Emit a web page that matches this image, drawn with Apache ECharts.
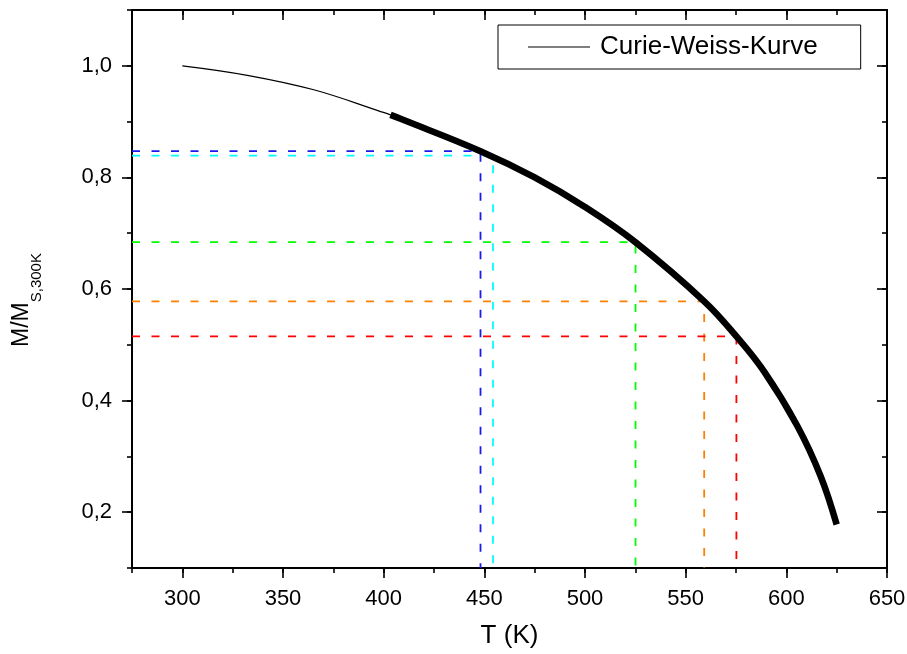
<!DOCTYPE html>
<html>
<head>
<meta charset="utf-8">
<script src="https://cdn.jsdelivr.net/npm/echarts@6/dist/echarts.min.js"></script>
<style>
html,body{margin:0;padding:0;background:#fff;}
#c{width:907px;height:654px;}
</style>
</head>
<body>
<div id="c"></div>
<script>
// ---- data ----
var thinT = [300, 332.3, 365.3, 398.5, 403.4, 410];
var thinM = [1.000, 0.983, 0.957, 0.918, 0.912, 0.903];
var thickT = [403.4, 408.4, 448.1, 475, 500, 525, 559.2, 575.2, 589, 605.4, 617, 625];
var thickM = [0.912, 0.905, 0.847, 0.800, 0.747, 0.684, 0.578, 0.515, 0.452, 0.355, 0.265, 0.178];
var crossT = [448.1, 454.3, 525.1, 559.2, 575.2];
var crossM = [0.847, 0.839, 0.684, 0.578, 0.515];
var crossColors = ['#1a1aee', '#00ffff', '#00ff00', '#ff8000', '#ff0000'];
var xMajor = [300, 350, 400, 450, 500, 550, 600, 650];
var yMajor = [0.2, 0.4, 0.6, 0.8, 1.0];
var xMin = 275, xMax = 650, yMin = 0.1, yMax = 1.1;
var legendName = 'Curie-Weiss-Kurve';

var FONT = '"Liberation Sans", Arial, sans-serif';
function zip(a, b) { return a.map(function (v, i) { return [v, b[i]]; }); }
function fmtY(v) { return v.toFixed(1).replace('.', ','); }

function xAx(pos, major, inside, extra) {
  var o = {
    type: 'value', position: pos, min: xMin, max: xMax,
    interval: 25,
    axisLine: { show: major, lineStyle: { color: '#000', width: 2 } },
    axisTick: { show: true, inside: inside, length: major ? 10 : 5, lineStyle: { color: '#000', width: 1.6 } },
    axisLabel: { show: false },
    splitLine: { show: false }
  };
  if (major) o.axisTick.customValues = xMajor;
  return Object.assign(o, extra || {});
}
function yAx(pos, major, inside, extra) {
  var o = {
    type: 'value', position: pos, min: yMin, max: yMax,
    interval: 0.1,
    axisLine: { show: major, lineStyle: { color: '#000', width: 2 } },
    axisTick: { show: true, inside: inside, length: major ? 10 : 5, lineStyle: { color: '#000', width: 1.6 } },
    axisLabel: { show: false },
    splitLine: { show: false }
  };
  if (major) o.axisTick.customValues = yMajor;
  return Object.assign(o, extra || {});
}

var xAxes = [
  xAx('bottom', true, false, {
    axisLabel: { show: true, customValues: xMajor, fontSize: 22, fontFamily: FONT, color: '#000', margin: 20 },
    name: 'T (K)', nameLocation: 'middle', nameGap: 55,
    nameTextStyle: { fontSize: 26, fontFamily: FONT, color: '#000' }
  }),
  xAx('bottom', false, false),
  xAx('top', true, true),
  xAx('top', false, true)
];
var yAxes = [
  yAx('left', true, false, {
    axisLabel: { show: true, customValues: yMajor, fontSize: 22, fontFamily: FONT, color: '#000', margin: 20, formatter: fmtY },
    name: '{m|M/M}{s|S,300K}', nameLocation: 'middle', nameRotate: 90, nameGap: 88,
    nameTextStyle: {
      fontFamily: FONT, color: '#000', padding: [0, 22, 0, 0],
      rich: {
        m: { fontSize: 23, fontFamily: FONT, color: '#000', lineHeight: 24, verticalAlign: 'top' },
        s: { fontSize: 15, fontFamily: FONT, color: '#000', lineHeight: 34, verticalAlign: 'bottom' }
      }
    }
  }),
  yAx('left', false, false),
  yAx('right', true, true),
  yAx('right', false, true)
];

var series = [];
crossT.forEach(function (t, i) {
  series.push({
    type: 'line', xAxisIndex: 0, yAxisIndex: 0, symbol: 'none', silent: true,
    data: [[xMin, crossM[i]], [t, crossM[i]], [t, yMin]],
    lineStyle: { color: crossColors[i], width: 1.8, type: [8, 11.5] },
    z: 2
  });
});
series.push({
  name: legendName, type: 'line', xAxisIndex: 0, yAxisIndex: 0, symbol: 'none',
  smooth: 0.4, data: zip(thinT, thinM),
  lineStyle: { color: '#000', width: 1.2 }, itemStyle: { color: '#000' }, z: 3
});
series.push({
  name: 'data', type: 'line', xAxisIndex: 0, yAxisIndex: 0, symbol: 'none',
  smooth: 0.4, data: zip(thickT, thickM),
  lineStyle: { color: '#000', width: 6.5, cap: 'butt' }, itemStyle: { color: '#000' }, z: 4
});

var chart = echarts.init(document.getElementById('c'), null, { renderer: 'canvas' });
chart.setOption({
  animation: false,
  backgroundColor: '#fff',
  grid: { left: 132, right: 20, top: 10, bottom: 86, containLabel: false, outerBoundsMode: 'none' },
  legend: {
    data: [legendName], left: 498, top: 25,
    padding: [9, 43, 9, 30],
    borderColor: '#000', borderWidth: 1,
    icon: 'rect',
    itemWidth: 62, itemHeight: 1.2,
    itemStyle: { color: '#000' },
    textStyle: { fontSize: 26, fontFamily: FONT, color: '#000', padding: [0, 0, 0, 5] },
    selectedMode: false
  },
  xAxis: xAxes,
  yAxis: yAxes,
  series: series
});
</script>
</body>
</html>
